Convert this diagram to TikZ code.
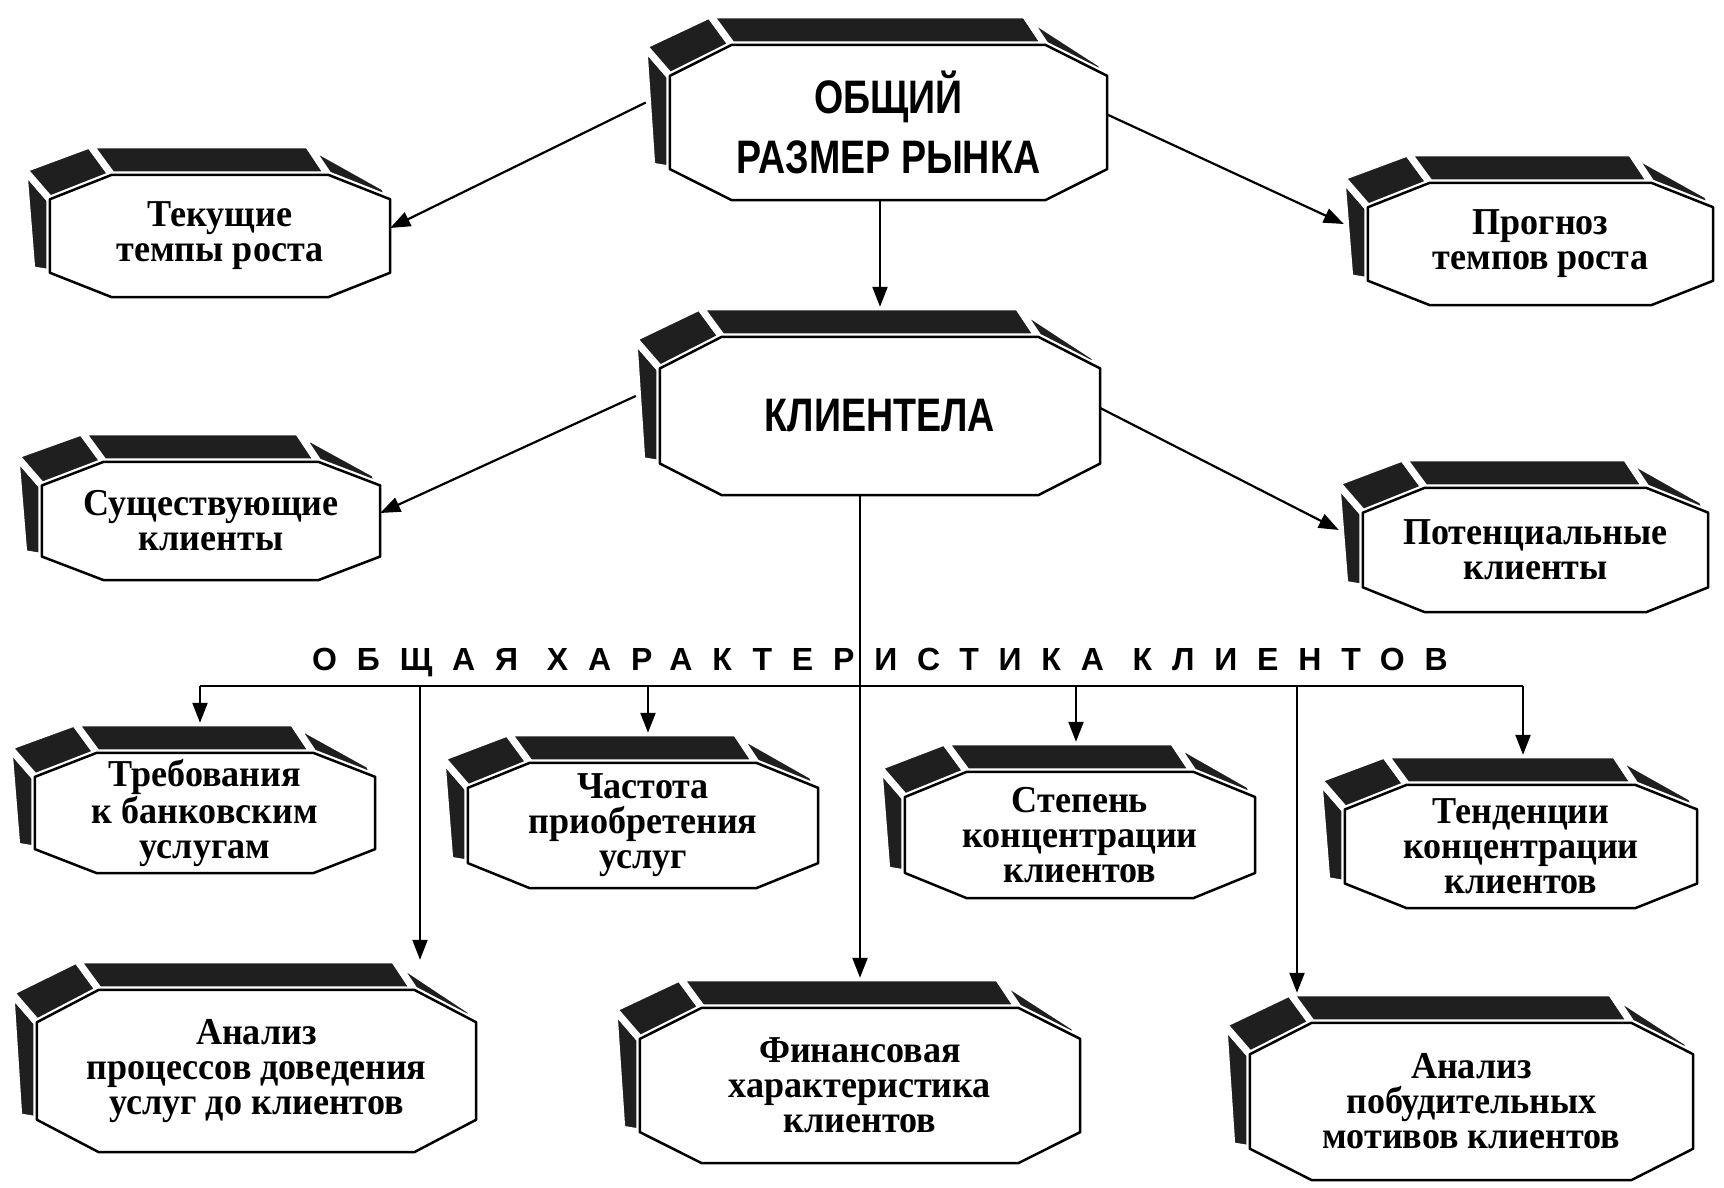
\documentclass[tikz,border=0pt]{standalone}
\usepackage{fontspec}
\setmainfont{Liberation Serif}
\newfontfamily\boxfont[FakeStretch=0.95]{Liberation Serif}
\newfontfamily\capsfont[FakeStretch=0.8]{Liberation Sans}
\newfontfamily\headfont[LetterSpace=62]{Liberation Sans}
\usetikzlibrary{arrows.meta,calc,backgrounds}
\tikzset{
  face/.style={fill=black!88,draw=white,line width=7pt,line join=round},
  frontface/.style={fill=white,draw=black,line width=2.5pt,line join=round},
  blockbox/.style={draw=none,inner sep=0pt,align=center,font=\boxfont\bfseries\fontsize{38}{35}\selectfont},
  blockcaps/.style={blockbox,font=\capsfont\bfseries\fontsize{47}{60}\selectfont},
  linkarrow/.style={draw=black,line width=2.2pt,-{Triangle[length=20pt,width=15pt]}},
  busline/.style={draw=black,line width=2.2pt},
  heading/.style={inner sep=0pt,font=\headfont\bfseries\fontsize{32}{32}\selectfont}
}
% 3D octagon behind a named node
\newcommand{\drawblock}[1]{%
  \path let \p1=(#1.north west), \p2=(#1.south east), \n1={0.2*(\y1-\y2)} in
    coordinate (#1-A) at (\x1,{\y2+\n1})
    coordinate (#1-B) at (\x1,{\y1-\n1})
    coordinate (#1-C) at ({\x1+62pt},\y1)
    coordinate (#1-D) at ({\x2-62pt},\y1)
    coordinate (#1-E) at (\x2,{\y1-\n1})
    coordinate (#1-F) at (\x2,{\y2+\n1})
    coordinate (#1-G) at ({\x2-62pt},\y2)
    coordinate (#1-I) at ({\x1+62pt},\y2)
    coordinate (#1-top) at ({(\x1+\x2)/2},{\y1+30pt})
    coordinate (#1-w) at ({\x1-24pt},{(\y1+\y2)/2+20pt})
    coordinate (#1-e) at (\x2,{(\y1+\y2)/2+8pt});
  \begin{pgfonlayer}{background}
  \filldraw[face] (#1-A) -- (#1-B) -- ++(-26pt,30pt) -- ($(#1-A)+(-18pt,3pt)$) -- cycle;
  \filldraw[face] (#1-B) -- (#1-C) -- ++(-22pt,30pt) -- ($(#1-B)+(-26pt,30pt)$) -- cycle;
  \filldraw[face] (#1-C) -- (#1-D) -- ++(-20pt,30pt) -- ($(#1-C)+(-22pt,30pt)$) -- cycle;
  \filldraw[face] (#1-D) -- (#1-E) -- ++(-6pt,12pt) -- ($(#1-D)+(-20pt,30pt)$) -- cycle;
  \filldraw[frontface] (#1-A) -- (#1-B) -- (#1-C) -- (#1-D) -- (#1-E) -- (#1-F) -- (#1-G) -- (#1-I) -- cycle;
  \end{pgfonlayer}}
\begin{document}
\begin{tikzpicture}[x=1pt,y=1pt]
\begin{pgfonlayer}{background}
\fill[white] (0,0) rectangle (1724,1187);
\end{pgfonlayer}
\useasboundingbox (0,0) rectangle (1724,1187);
% Row 1: market size and growth
\node[blockcaps,minimum width=437pt,minimum height=155pt] (obsh) at (888.5,1064.5) {ОБЩИЙ\\РАЗМЕР РЫНКА};
\drawblock{obsh}
\node[blockbox,minimum width=340pt,minimum height=122pt] (tek) at (220,951) {Текущие\\темпы роста};
\drawblock{tek}
\node[blockbox,minimum width=345pt,minimum height=122pt] (prog) at (1540.5,943) {Прогноз\\темпов роста};
\drawblock{prog}
% Row 2: clientele
\node[blockcaps,minimum width=440pt,minimum height=158pt] (klient) at (880,771) {КЛИЕНТЕЛА};
\drawblock{klient}
\node[blockbox,minimum width=338pt,minimum height=118pt] (sush) at (211,666) {Существующие\\клиенты};
\drawblock{sush}
\node[blockbox,minimum width=345pt,minimum height=124pt] (pot) at (1535.5,637) {Потенциальные\\клиенты};
\drawblock{pot}
% Heading and bus
\node[heading] (head) at (880,524) {ОБЩАЯ ХАРАКТЕРИСТИКА КЛИЕНТОВ};
\coordinate (b7) at (200,501);
\coordinate (b11) at (420,501);
\coordinate (b8) at (648,501);
\coordinate (b9) at (1076,501);
\coordinate (b13) at (1297,501);
\coordinate (b10) at (1523,501);
% Row 3
\node[blockbox,minimum width=340pt,minimum height=120pt] (treb) at (205,374) {Требования\\к банковским\\услугам};
\drawblock{treb}
\node[blockbox,minimum width=350pt,minimum height=125pt] (chast) at (643,361.5) {Частота\\приобретения\\услуг};
\drawblock{chast}
\node[blockbox,minimum width=350pt,minimum height=126pt] (stepen) at (1080,352) {Степень\\концентрации\\клиентов};
\drawblock{stepen}
\node[blockbox,minimum width=352pt,minimum height=123pt] (tend) at (1521,340.5) {Тенденции\\концентрации\\клиентов};
\drawblock{tend}
% Row 4
\node[blockbox,minimum width=439pt,minimum height=162pt] (proc) at (256.5,116) {Анализ\\процессов доведения\\услуг до клиентов};
\drawblock{proc}
\node[blockbox,minimum width=440pt,minimum height=155pt] (fin) at (860,101.5) {Финансовая\\характеристика\\клиентов};
\drawblock{fin}
\node[blockbox,minimum width=443pt,minimum height=157pt] (motiv) at (1471.5,85.5) {Анализ\\побудительных\\мотивов клиентов};
\drawblock{motiv}
% Connectors
\draw[linkarrow] (obsh-w) -- (tek-e);
\draw[linkarrow] (obsh-e) -- (prog-w);
\draw[linkarrow] (obsh.south -| klient-top) -- (klient-top);
\draw[linkarrow] (klient-w) -- (sush-e);
\draw[linkarrow] (klient-e) -- (pot-w);
\draw[linkarrow] (klient.south -| fin-top) -- (fin-top);
\draw[busline] (b7) -- (b10);
\draw[linkarrow] (b7) -- (b7 |- treb-top);
\draw[linkarrow] (b8) -- (b8 |- chast-top);
\draw[linkarrow] (b9) -- (b9 |- stepen-top);
\draw[linkarrow] (b10) -- (b10 |- tend-top);
\draw[linkarrow] (b11) -- (b11 |- proc-top);
\draw[linkarrow] (b13) -- (b13 |- motiv-top);
\end{tikzpicture}
\end{document}
